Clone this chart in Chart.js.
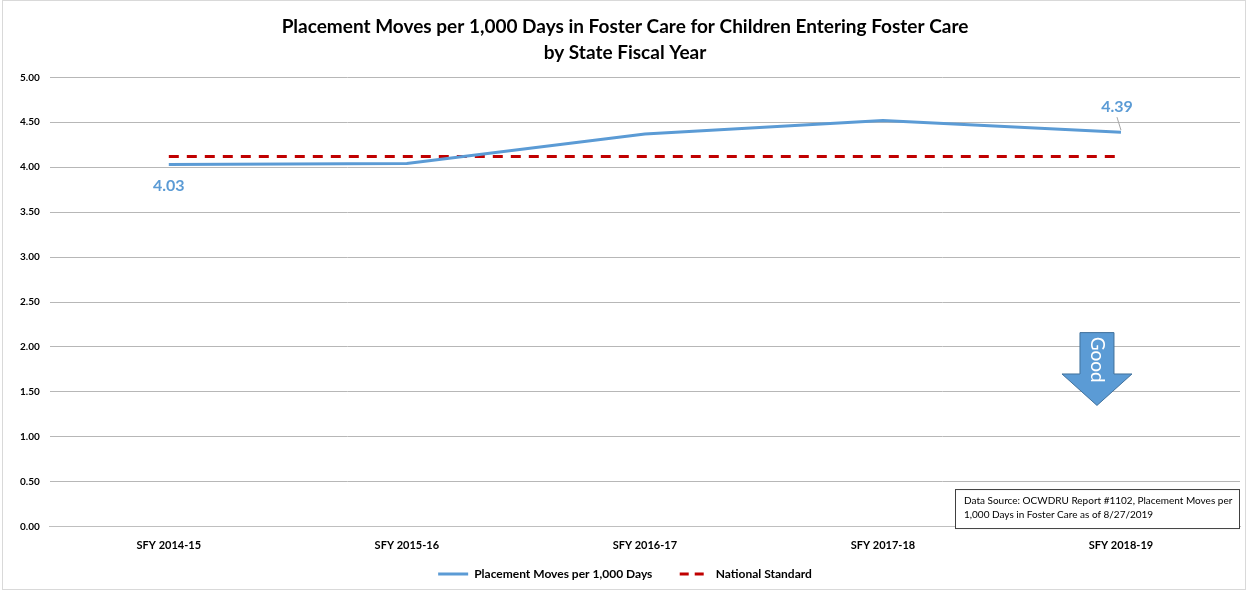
<!DOCTYPE html>
<html>
<head>
<meta charset="utf-8">
<script src="https://cdn.jsdelivr.net/npm/chart.js@4/dist/chart.umd.min.js"></script>
<style>
    html, body { margin: 0; padding: 0; background: #fff; }
    #wrap { position: relative; width: 1248px; height: 590px; }
</style>
</head>
<body>
<div id="wrap"><canvas id="chart" width="1248" height="590"></canvas></div>
<script>
const years = ["SFY 2014-15", "SFY 2015-16", "SFY 2016-17", "SFY 2017-18", "SFY 2018-19"];
const placementMoves = [4.03, 4.04, 4.37, 4.52, 4.39];
const nationalStandard = [4.12, 4.12, 4.12, 4.12, 4.12];
const titleLines = [
    "Placement Moves per 1,000 Days in Foster Care for Children Entering Foster Care",
    "by State Fiscal Year",
];
const sourceLines = [
    "Data Source: OCWDRU Report #1102, Placement Moves per",
    "1,000 Days in Foster Care as of 8/27/2019",
];

const FONT = "Lato, 'Open Sans', sans-serif";
const blue = "#5b9bd5";
const red = "#c00000";

const extras = {
    id: "extras",
    afterDatasetsDraw(chart) {
        const { ctx, scales: { x, y } } = chart;
        ctx.save();

        // end point labels
        ctx.font = "bold 16px " + FONT;
        ctx.fillStyle = blue;
        ctx.textAlign = "center";
        ctx.textBaseline = "middle";
        const x0 = x.getPixelForValue(0);
        const y0 = y.getPixelForValue(placementMoves[0]);
        ctx.fillText(placementMoves[0].toFixed(2), x0, y0 + 21);
        const last = placementMoves.length - 1;
        const xl = x.getPixelForValue(last);
        const yl = y.getPixelForValue(placementMoves[last]);
        ctx.fillText(placementMoves[last].toFixed(2), xl - 4, yl - 25);
        ctx.strokeStyle = "#a6a6a6";
        ctx.lineWidth = 1;
        ctx.beginPath();
        ctx.moveTo(xl - 4, yl - 15);
        ctx.lineTo(xl, yl - 2);
        ctx.stroke();

        // "Good" arrow
        const ax = x.getPixelForValue(last) - 24;
        const top = y.getPixelForValue(2.16);
        const neck = y.getPixelForValue(1.7);
        const tip = y.getPixelForValue(1.35);
        ctx.beginPath();
        ctx.moveTo(ax - 17, top);
        ctx.lineTo(ax + 17, top);
        ctx.lineTo(ax + 17, neck);
        ctx.lineTo(ax + 35, neck);
        ctx.lineTo(ax, tip);
        ctx.lineTo(ax - 35, neck);
        ctx.lineTo(ax - 17, neck);
        ctx.closePath();
        ctx.fillStyle = "#5b9bd5";
        ctx.fill();
        ctx.strokeStyle = "#41719c";
        ctx.stroke();
        ctx.save();
        ctx.translate(ax, top + 27);
        ctx.rotate(Math.PI / 2);
        ctx.fillStyle = "#fff";
        ctx.font = "19px " + FONT;
        ctx.textAlign = "center";
        ctx.textBaseline = "middle";
        ctx.fillText("Good", 0, 0);
        ctx.restore();

        // data source box
        const bx = 955, by = y.getPixelForValue(0.42), bw = 284, bh = 39;
        ctx.fillStyle = "#fff";
        ctx.fillRect(bx, by, bw, bh);
        ctx.strokeStyle = "#404040";
        ctx.lineWidth = 1;
        ctx.strokeRect(bx + 0.5, by + 0.5, bw, bh);
        ctx.fillStyle = "#000";
        ctx.font = "10px " + FONT;
        ctx.textAlign = "left";
        ctx.textBaseline = "middle";
        sourceLines.forEach((line, i) => ctx.fillText(line, bx + 9, by + 12 + i * 14));

        ctx.restore();
    },
    afterDraw(chart) {
        const { ctx } = chart;
        ctx.save();
        ctx.strokeStyle = "#d9d9d9";
        ctx.lineWidth = 1;
        ctx.strokeRect(2.5, 0.5, chart.width - 5, chart.height - 1);
        ctx.restore();
    },
};

new Chart(document.getElementById("chart"), {
    type: "line",
    data: {
        labels: years,
        datasets: [
            {
                label: "Placement Moves per 1,000 Days",
                data: placementMoves,
                borderColor: blue,
                backgroundColor: blue,
                borderWidth: 3,
                pointRadius: 0,
                tension: 0,
            },
            {
                label: "National Standard",
                data: nationalStandard,
                borderColor: red,
                backgroundColor: red,
                borderWidth: 3,
                borderDash: [10, 8],
                pointRadius: 0,
            },
        ],
    },
    options: {
        responsive: false,
        animation: false,
        layout: { padding: { left: 10, right: 8, top: 6, bottom: 0 } },
        plugins: {
            title: {
                display: true,
                text: titleLines,
                color: "#000",
                font: { family: FONT, size: 19, weight: "bold", lineHeight: 1.35 },
                padding: { top: 8, bottom: 12 },
            },
            legend: {
                position: "bottom",
                labels: {
                    color: "#000",
                    font: { family: FONT, size: 12, weight: "bold" },
                    usePointStyle: true,
                    pointStyle: "line",
                    pointStyleWidth: 30,
                    boxHeight: 8,
                    padding: 4,
                    generateLabels(chart) {
                        const items = Chart.defaults.plugins.legend.labels.generateLabels(chart);
                        items.forEach((item) => {
                            const ds = chart.data.datasets[item.datasetIndex];
                            item.lineDash = ds.borderDash ? [9, 6] : [];
                            item.lineWidth = 3;
                            item.strokeStyle = ds.borderColor;
                            if (item.datasetIndex === 0) item.text += "        ";
                        });
                        return items;
                    },
                },
            },
            tooltip: { enabled: false },
        },
        scales: {
            x: {
                offset: true,
                grid: { display: false, drawTicks: false },
                border: { color: "#bfbfbf" },
                ticks: {
                    color: "#000",
                    font: { family: FONT, size: 11, weight: "bold" },
                    padding: 12,
                },
            },
            y: {
                min: 0,
                max: 5,
                grid: { color: "#b7b7b7", drawTicks: false },
                border: { display: false },
                ticks: {
                    stepSize: 0.5,
                    color: "#000",
                    font: { family: FONT, size: 10, weight: "bold" },
                    padding: 10,
                    callback: (v) => v.toFixed(2),
                },
            },
        },
    },
    plugins: [extras],
});
</script>
</body>
</html>
